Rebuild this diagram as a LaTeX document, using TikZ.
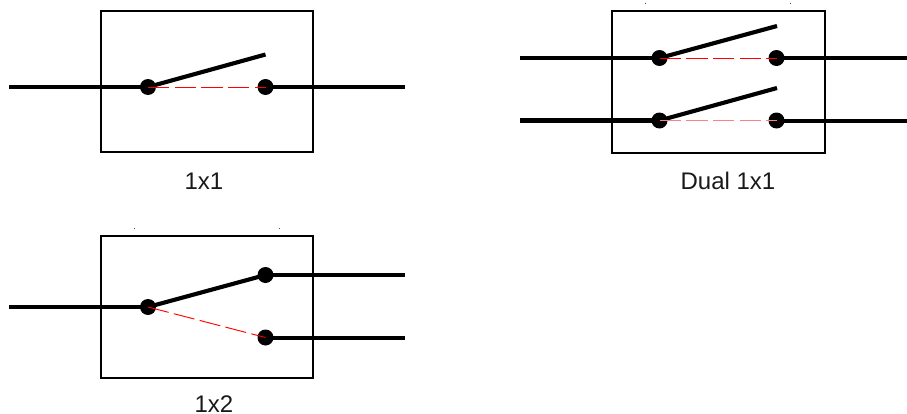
\documentclass[tikz,border=0pt]{standalone}
\usepackage{fontspec}
\setmainfont{Liberation Sans}
\usepackage{tikz}
\usetikzlibrary{positioning}
\tikzset{
  swbox/.style={draw=black,line width=1.9pt},
  swdot/.style={circle,fill=black,inner sep=0pt,minimum size=12pt},
  wire/.style={black,line width=3pt},
  wirethick/.style={black,line width=3.5pt},
  arm/.style={black,line width=3.1pt},
  open/.style={red,line width=0.7pt,dash pattern=on 16pt off 4pt},
  openlight/.style={red!50,line width=0.9pt,dash pattern=on 16pt off 4pt},
  caption/.style={font=\fontsize{18pt}{20pt}\selectfont,text=black!90,inner sep=0pt},
  speck/.style={black!70,line width=0.5pt}
}
\begin{document}
\begin{tikzpicture}[x=0.75pt,y=-0.75pt]
\useasboundingbox (0,0) rectangle (907,414);
% 1x1
\draw[swbox] (101,11) rectangle (313,152);
\node[swdot] (Ain) at (148,87) {};
\node[swdot] (Aout) at (265.5,87) {};
\coordinate (Al) at (9,87);
\coordinate (Ar) at (405,87);
\coordinate (Atip) at (265.5,54.5);
\draw[wirethick] (Al) -- (Ain.center);
\draw[wire] (Aout.center) -- (Ar);
\draw[arm] (Ain.center) -- (Atip);
\draw[open] (Ain.center) -- (Aout.center);
\node[caption] (Acap) at (204,181) {1x1};
% dual 1x1
\draw[swbox] (612,11) rectangle (825,153);
\node[swdot] (Bin) at (659.5,58) {};
\node[swdot] (Bout) at (776.5,58) {};
\node[swdot] (Cin) at (659.5,120.5) {};
\node[swdot] (Cout) at (776.5,120.5) {};
\coordinate (Bl) at (520,58);
\coordinate (Br) at (907,58);
\coordinate (Cl) at (520,120.5);
\coordinate (Cr) at (907,120.5);
\coordinate (Btip) at (777,26);
\coordinate (Ctip) at (777,88);
\draw[wire] (Bl) -- (Bin.center);
\draw[wire] (Bout.center) -- (Br);
\draw[wirethick] (Cl) -- (Cin.center);
\draw[wire] (Cout.center) -- (Cr);
\draw[arm] (Bin.center) -- (Btip);
\draw[arm] (Cin.center) -- (Ctip);
\draw[open] (Bin.center) -- (Bout.center);
\draw[openlight] (Cin.center) -- (Cout.center);
\node[caption] (Bcap) at (728,180.7) {Dual 1x1};
% 1x2
\draw[swbox] (101,236) rectangle (313,378);
\node[swdot] (Din) at (148,307) {};
\node[swdot] (Dup) at (265.5,275) {};
\node[swdot] (Ddn) at (265.5,337.5) {};
\coordinate (Dl) at (9,307);
\coordinate (Dru) at (405,275);
\coordinate (Drd) at (405,337.5);
\draw[wire] (Dl) -- (Din.center);
\draw[wire] (Dup.center) -- (Dru);
\draw[wire] (Ddn.center) -- (Drd);
\draw[arm] (Din.center) -- (Dup.center);
\draw[open] (Din.center) -- (Ddn.center);
\node[caption] (Dcap) at (214,404) {1x2};
% specks above the boxes
\draw[speck] (645.5,2.5) -- (645.5,3.5);
\draw[speck] (790.5,2.5) -- (790.5,3.5);
\draw[speck] (134.5,228) -- (134.5,229);
\draw[speck] (279.5,228) -- (279.5,229);
\end{tikzpicture}
\end{document}
